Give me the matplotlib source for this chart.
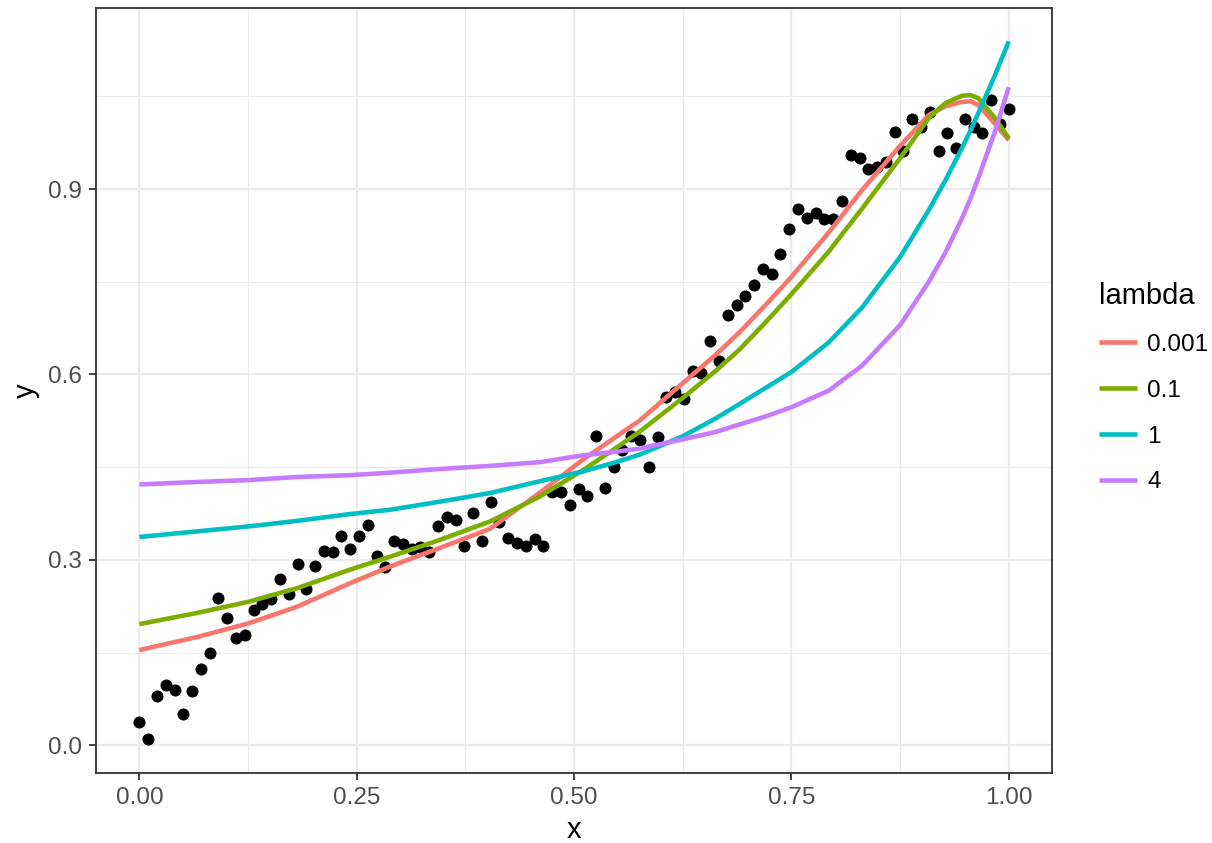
import matplotlib
matplotlib.use("Agg")
import matplotlib.pyplot as plt
import numpy as np

plt.rcParams["font.family"] = ["Liberation Sans", "DejaVu Sans"]

# observed data, x = i/99 for i in 0..99
y_obs = [0.038, 0.010, 0.080, 0.097, 0.090, 0.051, 0.087, 0.124, 0.150, 0.239,
         0.206, 0.173, 0.178, 0.219, 0.229, 0.237, 0.269, 0.244, 0.294, 0.252,
         0.290, 0.315, 0.313, 0.338, 0.317, 0.338, 0.357, 0.307, 0.289, 0.331,
         0.325, 0.317, 0.321, 0.313, 0.355, 0.370, 0.365, 0.323, 0.375, 0.331,
         0.394, 0.362, 0.336, 0.328, 0.323, 0.333, 0.323, 0.410, 0.410, 0.388,
         0.414, 0.404, 0.501, 0.417, 0.451, 0.478, 0.501, 0.494, 0.450, 0.498,
         0.563, 0.572, 0.561, 0.606, 0.602, 0.654, 0.622, 0.697, 0.713, 0.727,
         0.744, 0.771, 0.762, 0.795, 0.836, 0.867, 0.853, 0.862, 0.852, 0.851,
         0.881, 0.955, 0.951, 0.932, 0.935, 0.944, 0.992, 0.961, 1.013, 1.000,
         1.024, 0.962, 0.991, 0.967, 1.013, 1.000, 0.990, 1.044, 1.006, 1.030]
x_obs = np.arange(len(y_obs)) / (len(y_obs) - 1)

# fitted curves for each lambda
x_fit = [0.000, 0.066, 0.125, 0.181, 0.242, 0.288, 0.345, 0.403, 0.460, 0.510,
         0.548, 0.575, 0.625, 0.663, 0.690, 0.720, 0.750, 0.793, 0.831, 0.875,
         0.908, 0.927, 0.946, 0.956, 0.965, 0.984, 1.000]
fit_0001 = [0.154, 0.175, 0.197, 0.224, 0.262, 0.289, 0.319, 0.350, 0.408, 0.462,
            0.499, 0.525, 0.586, 0.632, 0.668, 0.712, 0.758, 0.830, 0.898, 0.970,
            1.020, 1.034, 1.041, 1.042, 1.036, 1.006, 0.979]
fit_01 = [0.196, 0.214, 0.232, 0.254, 0.284, 0.305, 0.332, 0.362, 0.402, 0.445,
          0.481, 0.507, 0.562, 0.606, 0.640, 0.684, 0.730, 0.799, 0.868, 0.950,
          1.015, 1.039, 1.051, 1.052, 1.047, 1.015, 0.982]
fit_1 = [0.337, 0.346, 0.354, 0.363, 0.374, 0.381, 0.394, 0.408, 0.427, 0.443,
         0.458, 0.470, 0.500, 0.529, 0.552, 0.578, 0.604, 0.652, 0.708, 0.790,
         0.866, 0.914, 0.966, 0.995, 1.023, 1.084, 1.139]
fit_4 = [0.422, 0.426, 0.429, 0.434, 0.437, 0.441, 0.447, 0.452, 0.458, 0.469,
         0.475, 0.480, 0.495, 0.507, 0.519, 0.532, 0.547, 0.574, 0.614, 0.680,
         0.750, 0.797, 0.852, 0.885, 0.918, 0.993, 1.065]

lambdas = ["0.001", "0.1", "1", "4"]
fits = [fit_0001, fit_01, fit_1, fit_4]
colors = ["#F8766D", "#7CAE00", "#00BFC4", "#C77CFF"]

fig = plt.figure(figsize=(12.12, 8.43), dpi=100)
ax = fig.add_axes([0.0792, 0.083, 0.789, 0.9075])

ax.scatter(x_obs, y_obs, s=75, color="black", linewidths=0, zorder=3)
for lab, fy, c in zip(lambdas, fits, colors):
    ax.plot(x_fit, fy, color=c, lw=3.3, label=lab, zorder=4,
            solid_capstyle="butt", solid_joinstyle="round")

ax.set_xlim(-0.05, 1.05)
ax.set_ylim(-0.045, 1.193)
ax.set_xticks([0, 0.25, 0.5, 0.75, 1.0])
ax.set_xticklabels(["0.00", "0.25", "0.50", "0.75", "1.00"])
ax.set_yticks([0.0, 0.3, 0.6, 0.9])
ax.set_yticklabels(["0.0", "0.3", "0.6", "0.9"])
ax.set_xticks([0.125, 0.375, 0.625, 0.875], minor=True)
ax.set_yticks([0.15, 0.45, 0.75, 1.05], minor=True)

ax.grid(which="major", color="#EBEBEB", lw=1.6)
ax.grid(which="minor", color="#EBEBEB", lw=0.8)
ax.set_axisbelow(True)
for sp in ax.spines.values():
    sp.set_color("#333333")
    sp.set_linewidth(1.3)
ax.tick_params(which="major", length=5, width=1.3, color="#333333",
               labelsize=17.5, labelcolor="#4D4D4D", pad=5)
ax.tick_params(which="minor", length=0)

ax.set_xlabel("x", fontsize=21, labelpad=5)
ax.set_ylabel("y", fontsize=21, labelpad=6)

leg = ax.legend(title="lambda", loc="center left", bbox_to_anchor=(0.897, 0.54),
                bbox_transform=fig.transFigure, frameon=False, fontsize=17.5,
                title_fontsize=21, handlelength=1.55, handletextpad=0.42,
                labelspacing=0.98, borderpad=0, alignment="left")

fig.savefig("out.png", dpi=100)
